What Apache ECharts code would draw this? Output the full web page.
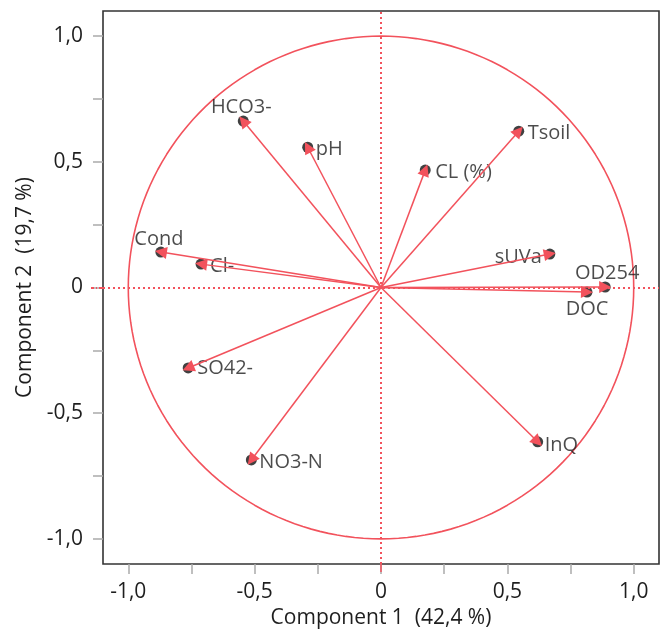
<!DOCTYPE html>
<html>
<head>
<meta charset="utf-8">
<script src="https://cdn.jsdelivr.net/npm/echarts@6/dist/echarts.min.js"></script>
<style>html,body{margin:0;padding:0;background:#fff}#c{width:665px;height:637px}</style>
</head>
<body>
<div id="c"></div>
<script>
// Variables (loadings)
const variables = ['HCO3-', 'pH', 'CL (%)', 'Tsoil', 'sUVa', 'OD254', 'DOC', 'Cond', 'Cl-', 'SO42-', 'NO3-N', 'InQ'];
const comp1 = [-0.545, -0.290, 0.175, 0.545, 0.668, 0.887, 0.815, -0.871, -0.712, -0.763, -0.513, 0.620];
const comp2 = [0.662, 0.558, 0.467, 0.622, 0.133, 0.002, -0.018, 0.141, 0.093, -0.320, -0.686, -0.614];
const labelTicks = [-1, -0.5, 0, 0.5, 1];
const minorTicks = [-1, -0.75, -0.5, -0.25, 0, 0.25, 0.5, 0.75, 1];
const xName = 'Component 1  (42,4 %)';
const yName = 'Component 2  (19,7 %)';

// label placement (styling only): anchor at the point, then offset
const labelStyle = {
  'HCO3-': {align: 'center', offset: [-2, -14]},
  'pH': {align: 'left', offset: [8, 2]},
  'CL (%)': {align: 'left', offset: [10, 2]},
  'Tsoil': {align: 'left', offset: [9, 2]},
  'sUVa': {align: 'right', offset: [-8, 3]},
  'OD254': {align: 'center', offset: [2, -14]},
  'DOC': {align: 'center', offset: [0, 17]},
  'Cond': {align: 'center', offset: [-2, -13]},
  'Cl-': {align: 'left', offset: [9, 2]},
  'SO42-': {align: 'left', offset: [9, 0]},
  'NO3-N': {align: 'left', offset: [8, 2]},
  'InQ': {align: 'left', offset: [7, 3]}
};

const RED = '#f2525c';
const FONT = 'Open Sans';
const TXT = '#1e1e1e';
const fmt = v => v === 0 ? '0' : v.toFixed(1).replace('.', ',');

// unit correlation circle
const circle = [];
for (let a = 0; a <= 360; a += 2) {
  const r = a * Math.PI / 180;
  circle.push([Math.cos(r), Math.sin(r)]);
}

const chart = echarts.init(document.getElementById('c'), null, {renderer: 'canvas'});

const axisCommon = {
  type: 'value', min: -1.1, max: 1.1,
  splitLine: {show: false},
  axisLine: {show: false, onZero: false}
};

chart.setOption({
  animation: false,
  grid: {left: 103, right: 6, top: 11, bottom: 73, show: true, borderColor: '#333', borderWidth: 1.6, containLabel: false},
  xAxis: [
    Object.assign({}, axisCommon, {
      position: 'bottom',
      name: xName, nameLocation: 'middle', nameGap: 37,
      nameTextStyle: {fontFamily: FONT, fontSize: 21, color: TXT},
      axisTick: {show: true, inside: false, length: 10, customValues: minorTicks, lineStyle: {color: '#aaa', width: 1.5}},
      axisLabel: {customValues: labelTicks, formatter: fmt, margin: 18, fontFamily: FONT, fontSize: 21, color: TXT}
    }),
    Object.assign({}, axisCommon, {
      position: 'bottom',
      axisTick: {show: true, length: 8, customValues: [0], lineStyle: {color: RED, width: 1.5}},
      axisLabel: {show: false}
    })
  ],
  yAxis: [
    Object.assign({}, axisCommon, {
      position: 'left',
      name: yName, nameLocation: 'middle', nameGap: 66,
      nameTextStyle: {fontFamily: FONT, fontSize: 21, color: TXT},
      axisTick: {show: true, inside: false, length: 10, customValues: minorTicks, lineStyle: {color: '#aaa', width: 1.5}},
      axisLabel: {customValues: labelTicks, formatter: fmt, margin: 20, fontFamily: FONT, fontSize: 21, color: TXT}
    }),
    Object.assign({}, axisCommon, {
      position: 'left',
      axisTick: {show: true, length: 12, customValues: [0], lineStyle: {color: RED, width: 1.8, type: [4, 2, 1, 2]}},
      axisLabel: {show: false}
    })
  ],
  series: [
    {
      type: 'line', data: circle, showSymbol: false, silent: true,
      lineStyle: {color: RED, width: 1.6}, z: 2,
      markLine: {
        silent: true, symbol: ['none', 'none'], label: {show: false},
        lineStyle: {color: RED, width: 2, type: [2, 3]},
        data: [{xAxis: 0}, {yAxis: 0}]
      }
    },
    {
      type: 'scatter', symbol: 'circle', symbolSize: 11, z: 3,
      itemStyle: {color: '#111'},
      data: variables.map((n, i) => ({
        name: n, value: [comp1[i], comp2[i]],
        label: Object.assign({show: true, position: 'inside', verticalAlign: 'middle', formatter: n, fontFamily: FONT, fontSize: 20, color: TXT}, labelStyle[n])
      }))
    },
    {
      type: 'lines', coordinateSystem: 'cartesian2d', z: 4,
      symbol: ['none', 'triangle'], symbolSize: [11, 12],
      lineStyle: {color: RED, width: 1.5, opacity: 1},
      data: variables.map((n, i) => ({coords: [[0, 0], [comp1[i], comp2[i]]]}))
    }
  ]
});
</script>
</body>
</html>
